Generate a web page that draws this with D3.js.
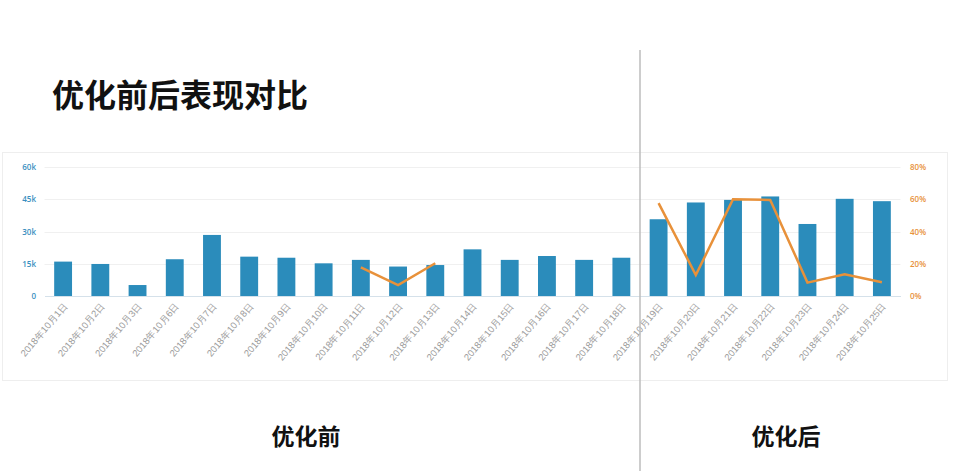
<!DOCTYPE html>
<html>
<head>
<meta charset="utf-8">
<script src="https://cdn.jsdelivr.net/npm/d3@7"></script>
<style>
    body { margin: 0; background: #fff; }
    svg { display: block; font-family: "Noto Sans CJK SC", "Noto Sans", sans-serif; }
</style>
</head>
<body>
<svg width="960" height="471"></svg>
<script>
"use strict";

const dates = ['2018年10月1日', '2018年10月2日', '2018年10月3日', '2018年10月6日', '2018年10月7日',
    '2018年10月8日', '2018年10月9日', '2018年10月10日', '2018年10月11日', '2018年10月12日',
    '2018年10月13日', '2018年10月14日', '2018年10月15日', '2018年10月16日', '2018年10月17日',
    '2018年10月18日', '2018年10月19日', '2018年10月20日', '2018年10月21日', '2018年10月22日',
    '2018年10月23日', '2018年10月24日', '2018年10月25日'];

// bar values (left axis)
const volume = [16000, 14900, 5100, 17100, 28400, 18300, 17800, 15200, 16800, 13700,
    14400, 21700, 16800, 18600, 16800, 17800, 35700, 43500, 44700, 46300,
    33500, 45200, 44100];

// line values in % (right axis), null = no point
const rate = [null, null, null, null, null, null, null, null, 17.8, 6.8,
    20.3, null, null, null, null, null, 57.6, 13, 60, 59.6,
    8.3, 13.5, 8.5];

const leftTicks = [0, 15000, 30000, 45000, 60000];
const rightTicks = [0, 20, 40, 60, 80];

const colors = { bar: '#2b8cbb', line: '#e8913a', left: '#3a8fc0', date: '#9c9c9c' };

function init() {
    const svg = d3.select('svg');

    svg.append('text')
        .attr('x', 52)
        .attr('y', 107)
        .attr('font-size', '32px')
        .attr('font-weight', 'bold')
        .attr('fill', '#111')
        .text('优化前后表现对比');

    // panel
    svg.append('rect')
        .attr('x', 2.5).attr('y', 152.5)
        .attr('width', 945).attr('height', 228)
        .attr('fill', 'none')
        .attr('stroke', '#eeeeee');

    const x = d3.scaleBand().domain(dates).range([44.5, 900.5]).paddingInner(0.52).paddingOuter(0.26),
        yLeft = d3.scaleLinear().domain([0, 60000]).range([296, 167]),
        yRight = d3.scaleLinear().domain([0, 80]).range([296, 167]);

    const g = svg.append('g');

    // gridlines
    g.append('g')
        .selectAll('line')
        .data(leftTicks.slice(1))
        .join('line')
        .attr('x1', 44.5).attr('x2', 900.5)
        .attr('y1', d => Math.round(yLeft(d)) + 0.5)
        .attr('y2', d => Math.round(yLeft(d)) + 0.5)
        .attr('stroke', '#f0f0f0');

    // left axis
    const axL = g.append('g')
        .attr('transform', 'translate(44,0)')
        .call(d3.axisLeft(yLeft).tickValues(leftTicks).tickSize(0).tickPadding(8)
            .tickFormat(d => d === 0 ? '0' : (d / 1000) + 'k'));
    axL.select('.domain').remove();
    axL.selectAll('text').attr('fill', colors.left).attr('font-size', '8px')
        .attr('font-weight', 600).attr('font-family', 'Open Sans, sans-serif');

    // right axis
    const axR = g.append('g')
        .attr('transform', 'translate(902,0)')
        .call(d3.axisRight(yRight).tickValues(rightTicks).tickSize(0).tickPadding(8)
            .tickFormat(d => d + '%'));
    axR.select('.domain').remove();
    axR.selectAll('text').attr('fill', colors.line).attr('font-size', '8px')
        .attr('font-weight', 600).attr('font-family', 'Open Sans, sans-serif');

    // bars
    g.append('g')
        .selectAll('rect')
        .data(dates)
        .join('rect')
        .attr('x', d => x(d))
        .attr('width', x.bandwidth())
        .attr('y', (d, i) => yLeft(volume[i]))
        .attr('height', (d, i) => yLeft(0) - yLeft(volume[i]))
        .attr('fill', colors.bar);

    // bottom axis
    const axB = g.append('g')
        .attr('transform', 'translate(0,296)')
        .call(d3.axisBottom(x).tickSize(0).tickPadding(0));
    axB.select('.domain').attr('stroke', '#d5e1ea');
    axB.selectAll('text')
        .attr('fill', colors.date)
        .attr('font-size', '9.5px')
        .attr('text-anchor', 'end')
        .attr('dy', 0)
        .attr('transform', 'translate(5,10) rotate(-50)');

    // line
    const line = d3.line()
        .defined(d => d.v !== null)
        .x(d => x(d.date) + x.bandwidth() / 2)
        .y(d => yRight(d.v));

    g.append('path')
        .datum(dates.map((d, i) => ({ date: d, v: rate[i] })))
        .attr('d', line)
        .attr('fill', 'none')
        .attr('stroke', colors.line)
        .attr('stroke-width', 2.5);

    // separator
    svg.append('line')
        .attr('x1', 640).attr('x2', 640)
        .attr('y1', 50).attr('y2', 471)
        .attr('stroke', '#bdbdbd')
        .attr('stroke-width', 1.5);

    svg.selectAll('.part')
        .data([{ t: '优化前', x: 306 }, { t: '优化后', x: 786 }])
        .join('text')
        .attr('class', 'part')
        .attr('x', d => d.x)
        .attr('y', 445)
        .attr('text-anchor', 'middle')
        .attr('font-size', '23px')
        .attr('font-weight', 'bold')
        .attr('fill', '#111')
        .text(d => d.t);
}

init();
</script>
</body>
</html>
